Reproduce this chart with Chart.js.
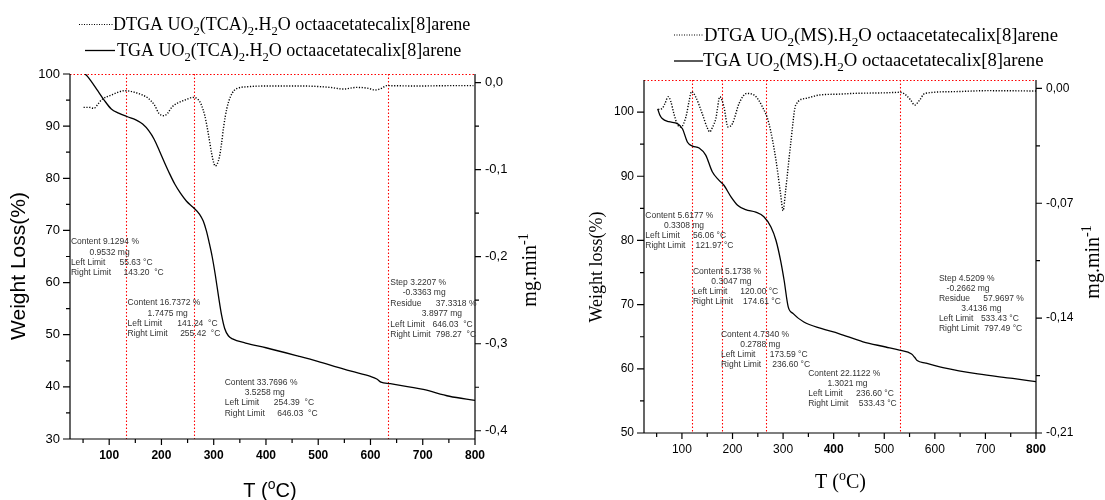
<!DOCTYPE html>
<html>
<head>
<meta charset="utf-8">
<script src="https://cdn.jsdelivr.net/npm/chart.js@4.4.1/dist/chart.umd.min.js"></script>
<style>
  body { margin: 0; background: #fff; }
  #wrap { position: relative; width: 1105px; height: 500px; }
  canvas { position: absolute; top: 0; }
</style>
</head>
<body>
<div id="wrap">
  <canvas id="tgaLeft" width="552" height="500" style="left:0;width:552px;height:500px"></canvas>
  <canvas id="tgaRight" width="553" height="500" style="left:552px;width:553px;height:500px"></canvas>
</div>
<script>
// --- DATA: UO2(TCA)2.H2O (left) ---
const leftTgaT = [54, 58, 65, 78, 91, 104, 118, 135, 151, 164, 176, 186, 196, 206, 216, 226, 236, 248, 261, 273,
                  280, 286, 291, 297, 303, 309, 315, 321, 328, 336, 361, 400, 462, 499, 536, 563, 600, 612, 620, 638,
                  701, 751, 800];
const leftTgaW = [100, 99.6, 98.7, 96.8, 94.9, 93.3, 92.5, 91.8, 91.2, 90.4, 89.1, 87.5, 85.3, 83.0, 80.8, 78.8, 77.2, 75.6, 74.4, 73.1,
                  71.8, 69.9, 67.8, 65, 61.5, 57.5, 53.8, 51.2, 49.8, 49.2, 48.4, 47.5, 45.9, 44.9, 43.8, 43.0, 42.0, 41.5, 40.9, 40.6,
                  39.5, 38.2, 37.4];
const leftDtgaT = [51, 62, 71, 78, 85, 104, 130, 149, 165, 175, 187, 195, 205, 212, 220, 232, 245, 260, 270, 276,
                   283, 289, 296, 300, 303, 307, 311, 315, 319, 325, 332, 339, 345, 365, 410, 470, 523, 548, 574, 596,
                   609, 621, 631, 689, 752, 797];
const leftDtgaV = [-0.0284, -0.0284, -0.0295, -0.0250, -0.0199, -0.0142, -0.0092, -0.0111, -0.0145, -0.0180, -0.0260, -0.0352, -0.0379, -0.0350, -0.0280, -0.0230, -0.0199, -0.0169, -0.0192, -0.0250,
                   -0.0380, -0.0563, -0.0812, -0.0920, -0.0958, -0.0930, -0.0850, -0.0700, -0.0506, -0.0300, -0.0161, -0.0090, -0.0065, -0.0046, -0.0038, -0.0038, -0.0054, -0.0073, -0.0054, -0.0065,
                   -0.0084, -0.0065, -0.0034, -0.0038, -0.0034, -0.0034];
const leftLimits = [134, 261, 634];

// --- DATA: UO2(MS).H2O (right) ---
const rightTgaT = [52, 56, 61, 74, 91, 101, 111, 121, 134, 147, 160, 173, 183, 197, 210, 226, 246, 262, 276, 286,
                   295, 302, 310, 320, 341, 375, 410, 458, 503, 530, 554, 560, 565, 582, 616, 685, 754, 800];
const rightTgaW = [100.5, 99.6, 99, 98.5, 98.2, 97.4, 95.3, 94.7, 94.4, 93.3, 90.7, 89.4, 88.6, 86.8, 85.5, 84.8, 84.4, 83.7, 82.1, 80,
                   76.9, 73.8, 69.7, 68.6, 67.3, 66.3, 65.5, 64.2, 63.4, 62.9, 62.3, 61.8, 61.3, 60.9, 60.2, 59.2, 58.5, 58.0];
const rightDtgaT = [53, 61, 66, 73, 78, 84, 91, 98, 108, 114, 119, 127, 140, 150, 155, 160, 167, 175, 183, 191,
                    200, 213, 228, 243, 259, 272, 286, 295, 300, 305, 315, 325, 345, 371, 411, 437, 503, 532, 543, 552,
                    560, 570, 580, 637, 703, 800];
const rightDtgaV = [-0.0129, -0.0122, -0.0095, -0.0051, -0.0080, -0.0153, -0.0220, -0.0235, -0.0173, -0.0080, -0.0020, -0.0051, -0.0153, -0.0240, -0.0265, -0.0240, -0.0184, -0.0051, -0.0112, -0.0235,
                    -0.0214, -0.0092, -0.0031, -0.0041, -0.0112, -0.0214, -0.0439, -0.0643, -0.0745, -0.0622, -0.0337, -0.0102, -0.0061, -0.0041, -0.0035, -0.0031, -0.0027, -0.0024, -0.0041, -0.0070,
                    -0.0102, -0.0071, -0.0031, -0.0020, -0.0014, -0.0016];
const rightLimits = [119, 178, 265, 530];

// --- TICKS ---
const tempTicks = [100, 200, 300, 400, 500, 600, 700, 800];
const tempMinor = [50, 150, 250, 350, 450, 550, 650, 750];
const leftYTicks = [30, 40, 50, 60, 70, 80, 90, 100];
const leftYMinor = [35, 45, 55, 65, 75, 85, 95];
const leftY2Ticks = [0, -0.1, -0.2, -0.3, -0.4];
const leftY2Labels = ['0,0', '-0,1', '-0,2', '-0,3', '-0,4'];
const leftY2Minor = [-0.05, -0.15, -0.25, -0.35];
const rightYTicks = [50, 60, 70, 80, 90, 100];
const rightYMinor = [55, 65, 75, 85, 95];
const rightY2Ticks = [0, -0.07, -0.14, -0.21];
const rightY2Labels = ['0,00', '-0,07', '-0,14', '-0,21'];
const rightY2Minor = [-0.035, -0.105, -0.175];
const rightBoldTemps = [400, 800];

// --- ANNOTATION TEXT (anchored at T / weight of first line) ---
const leftNotes = [
    { t: 26.7, w: 67.8, lines: [[['Content 9.1294 %', 0]], [['0.9532 mg', 18.6]], [['Left Limit', 0], ['55.63 °C', 48.6]], [['Right Limit', 0], ['143.20  °C', 52.6]]] },
    { t: 135.1, w: 56.1, lines: [[['Content 16.7372 %', 0]], [['1.7475 mg', 20]], [['Left Limit', 0], ['141.24  °C', 49.8]], [['Right Limit', 0], ['255.42  °C', 52.6]]] },
    { t: 321, w: 40.9, lines: [[['Content 33.7696 %', 0]], [['3.5258 mg', 20]], [['Left Limit', 0], ['254.39  °C', 49.1]], [['Right Limit', 0], ['646.03  °C', 52.6]]] },
    { t: 638, w: 60.0, lines: [[['Step 3.2207 %', 0]], [['-0.3363 mg', 12.3]], [['Residue', 0], ['37.3318 %', 45.5]], [['3.8977 mg', 31.5]], [['Left Limit', 0], ['646.03  °C', 42.1]], [['Right Limit', 0], ['798.27  °C', 45.5]]] }
];
const rightNotes = [
    { t: 27.6, w: 83.9, lines: [[['Content 5.6177 %', 0]], [['0.3308 mg', 18.6]], [['Left Limit', 0], ['56.06 °C', 47.6]], [['Right Limit', 0], ['121.97 °C', 50.3]]] },
    { t: 121.8, w: 75.2, lines: [[['Content 5.1738 %', 0]], [['0.3047 mg', 18.4]], [['Left Limit', 0], ['120.00 °C', 47.4]], [['Right Limit', 0], ['174.61 °C', 50]]] },
    { t: 177.2, w: 65.3, lines: [[['Content 4.7340 %', 0]], [['0.2788 mg', 19.2]], [['Left Limit', 0], ['173.59 °C', 48.7]], [['Right Limit', 0], ['236.60 °C', 51.2]]] },
    { t: 349.6, w: 59.25, lines: [[['Content 22.1122 %', 0]], [['1.3021 mg', 19.2]], [['Left Limit', 0], ['236.60 °C', 47.8]], [['Right Limit', 0], ['533.43 °C', 50.6]]] },
    { t: 608, w: 74.05, lines: [[['Step 4.5209 %', 0]], [['-0.2662 mg', 7.7]], [['Residue', 0], ['57.9697 %', 44.3]], [['3.4136 mg', 22.4]], [['Left Limit', 0], ['533.43 °C', 42]], [['Right Limit', 0], ['797.49 °C', 45.4]]] }
];

const SERIF = "'Liberation Serif', 'Times New Roman', serif";
const SANS = "'Liberation Sans', Arial, sans-serif";

const zip = (xs, ys) => xs.map((x, i) => ({ x: x, y: ys[i] }));

// --- HELPER: rich text with sub/superscripts ---
function drawRuns(ctx, runs, x, y, size, family, align) {
    let total = 0;
    const parts = runs.map(r => {
        const s = r[1] ? size * 0.7 : size;
        ctx.font = s + 'px ' + family;
        const w = ctx.measureText(r[0]).width;
        total += w;
        return { text: r[0], s: s, w: w, dy: r[1] === 'sub' ? size * 0.28 : (r[1] === 'sup' ? -size * 0.42 : 0) };
    });
    let cx = align === 'center' ? x - total / 2 : x;
    ctx.textAlign = 'left';
    ctx.textBaseline = 'alphabetic';
    parts.forEach(p => {
        ctx.font = p.s + 'px ' + family;
        ctx.fillText(p.text, cx, y + p.dy);
        cx += p.w;
    });
}

// --- PLUGIN: axes, ticks, limits, notes, titles, legend ---
const decorPlugin = {
    id: 'decor',
    beforeDatasetsDraw(chart, args, o) {
        const ctx = chart.ctx, a = chart.chartArea, sx = chart.scales.x;
        ctx.save();
        ctx.strokeStyle = '#ff0000';
        ctx.lineWidth = 1.1;
        ctx.setLineDash([1.5, 2]);
        ctx.beginPath();
        ctx.moveTo(a.left, a.top + 0.5);
        ctx.lineTo(a.right, a.top + 0.5);
        o.limits.forEach(t => {
            // snap to even pixel columns so the thin red stays red in the screenshot
            const px = 2 * Math.round(sx.getPixelForValue(t) / 2) + 0.5;
            ctx.moveTo(px, a.top);
            ctx.lineTo(px, a.bottom);
        });
        ctx.stroke();
        ctx.restore();
    },
    afterDraw(chart, args, o) {
        const ctx = chart.ctx, a = chart.chartArea;
        const sx = chart.scales.x, sy = chart.scales.y, sy2 = chart.scales.y2;
        ctx.save();
        ctx.strokeStyle = '#000';
        ctx.lineWidth = 1.2;
        ctx.setLineDash([]);
        ctx.beginPath();
        ctx.moveTo(a.left, a.top); ctx.lineTo(a.left, a.bottom); ctx.lineTo(a.right, a.bottom);
        ctx.moveTo(a.right, a.top); ctx.lineTo(a.right, a.bottom);
        // ticks
        const tick = (list, len, fn) => list.forEach(v => fn(v, len));
        const xt = (v, len) => { const p = sx.getPixelForValue(v); ctx.moveTo(p, a.bottom); ctx.lineTo(p, a.bottom + len); };
        const yt = (v, len) => { const p = sy.getPixelForValue(v); ctx.moveTo(a.left, p); ctx.lineTo(a.left - len, p); };
        const y2t = (v, len) => { const p = sy2.getPixelForValue(v); ctx.moveTo(a.right, p); ctx.lineTo(a.right + len, p); };
        tick(o.xTicks, 6, xt); tick(o.xMinor, 4, xt);
        tick(o.yTicks, 7, yt); tick(o.yMinor, 4, yt);
        tick(o.y2Ticks, 6, y2t); tick(o.y2Minor, 4, y2t);
        ctx.stroke();

        // annotations
        ctx.fillStyle = '#333';
        ctx.font = '8.5px ' + SANS;
        ctx.textAlign = 'left';
        ctx.textBaseline = 'middle';
        o.notes.forEach(n => {
            const x0 = sx.getPixelForValue(n.t), y0 = sy.getPixelForValue(n.w);
            n.lines.forEach((line, i) => {
                line.forEach(piece => ctx.fillText(piece[0], x0 + piece[1], y0 + i * o.noteGap));
            });
        });

        // titles
        ctx.fillStyle = '#000';
        o.titles.forEach(t => {
            if (t.rotate) {
                ctx.save();
                ctx.translate(t.x, t.y);
                ctx.rotate(-Math.PI / 2);
                drawRuns(ctx, t.runs, 0, 0, t.size, t.family, 'center');
                ctx.restore();
            } else {
                drawRuns(ctx, t.runs, t.x, t.y, t.size, t.family, 'center');
            }
        });

        // legend
        o.legend.forEach(l => {
            ctx.beginPath();
            ctx.lineWidth = l.dotted ? 1 : 1.3;
            ctx.setLineDash(l.dotted ? [1, 1.5] : []);
            ctx.moveTo(l.x1, l.y); ctx.lineTo(l.x2, l.y);
            ctx.stroke();
            drawRuns(ctx, l.runs, l.tx, l.ty, o.legendSize, SERIF, 'left');
        });
        ctx.restore();
    }
};

function makeChart(id, c) {
    const canvas = document.getElementById(id);
    const W = canvas.width, H = canvas.height;
    return new Chart(canvas, {
        type: 'line',
        data: {
            datasets: [
                { label: 'TGA', data: zip(c.tgaT, c.tgaW), yAxisID: 'y', borderColor: '#000', borderWidth: 1.3,
                  pointRadius: 0, cubicInterpolationMode: 'monotone', fill: false },
                { label: 'DTGA', data: zip(c.dtgaT, c.dtgaV), yAxisID: 'y2', borderColor: '#000', borderWidth: 1.4,
                  borderDash: [1.2, 1.6], pointRadius: 0, cubicInterpolationMode: 'monotone', fill: false }
            ]
        },
        options: {
            responsive: false,
            animation: false,
            devicePixelRatio: 1,
            layout: { padding: { top: c.box.top, left: 0, right: 0, bottom: 0 } },
            plugins: { legend: { display: false }, tooltip: { enabled: false }, decor: c.decor },
            scales: {
                x: {
                    type: 'linear', min: 25, max: 800,
                    afterBuildTicks: s => { s.ticks = tempTicks.map(v => ({ value: v })); },
                    afterFit: s => { s.height = H - c.box.bottom; },
                    grid: { display: false, drawTicks: false }, border: { display: false },
                    ticks: { padding: 9, color: '#000', autoSkip: false, maxRotation: 0,
                             font: ctx => ({ family: SANS, size: 12,
                                             weight: (ctx.tick && c.boldX(ctx.tick.value)) ? 'bold' : 'normal' }) }
                },
                y: {
                    type: 'linear', position: 'left', min: c.yMin, max: c.yMax,
                    afterBuildTicks: s => { s.ticks = c.yTicks.map(v => ({ value: v })); },
                    afterFit: s => { s.width = c.box.left; },
                    grid: { display: false, drawTicks: false }, border: { display: false },
                    ticks: { padding: 10, color: '#000', font: { family: SANS, size: c.ySize } }
                },
                y2: {
                    type: 'linear', position: 'right', min: c.y2Min, max: c.y2Max,
                    afterBuildTicks: s => { s.ticks = c.y2Ticks.map(v => ({ value: v })); },
                    afterFit: s => { s.width = W - c.box.right; },
                    grid: { display: false, drawTicks: false }, border: { display: false },
                    ticks: { padding: 10, color: '#000', font: { family: SANS, size: c.ySize },
                             callback: (v, i) => c.y2Labels[i] }
                }
            }
        },
        plugins: [decorPlugin]
    });
}

makeChart('tgaLeft', {
    tgaT: leftTgaT, tgaW: leftTgaW, dtgaT: leftDtgaT, dtgaV: leftDtgaV,
    box: { left: 70, right: 475, top: 74, bottom: 439 },
    yMin: 30, yMax: 100, y2Min: -0.4095, y2Max: 0.0100,
    yTicks: leftYTicks, y2Ticks: leftY2Ticks, y2Labels: leftY2Labels, ySize: 13,
    boldX: () => true,
    decor: {
        limits: leftLimits,
        xTicks: tempTicks, xMinor: tempMinor, yTicks: leftYTicks, yMinor: leftYMinor,
        y2Ticks: leftY2Ticks, y2Minor: leftY2Minor,
        notes: leftNotes, noteGap: 10.4,
        titles: [
            { runs: [['Weight Loss(%)']], x: 25, y: 266, size: 21, family: SANS, rotate: true },
            { runs: [['T ('], ['o', 'sup'], ['C)']], x: 270, y: 497, size: 20, family: SANS },
            { runs: [['mg.min'], ['-1', 'sup']], x: 536, y: 270, size: 20, family: SERIF, rotate: true }
        ],
        legendSize: 18,
        legend: [
            { dotted: true, x1: 79, x2: 113, y: 24.5, tx: 113, ty: 30,
              runs: [['DTGA UO'], ['2', 'sub'], ['(TCA)'], ['2', 'sub'], ['.H'], ['2', 'sub'], ['O octaacetatecalix[8]arene']] },
            { dotted: false, x1: 85, x2: 115, y: 50.5, tx: 117, ty: 56,
              runs: [['TGA UO'], ['2', 'sub'], ['(TCA)'], ['2', 'sub'], ['.H'], ['2', 'sub'], ['O octaacetatecalix[8]arene']] }
        ]
    }
});

makeChart('tgaRight', {
    tgaT: rightTgaT, tgaW: rightTgaW, dtgaT: rightDtgaT, dtgaV: rightDtgaV,
    box: { left: 92, right: 484, top: 80, bottom: 433 },
    yMin: 50, yMax: 105, y2Min: -0.21, y2Max: 0.0051,
    yTicks: rightYTicks, y2Ticks: rightY2Ticks, y2Labels: rightY2Labels, ySize: 12,
    boldX: v => rightBoldTemps.includes(v),
    decor: {
        limits: rightLimits,
        xTicks: tempTicks, xMinor: tempMinor, yTicks: rightYTicks, yMinor: rightYMinor,
        y2Ticks: rightY2Ticks, y2Minor: rightY2Minor,
        notes: rightNotes, noteGap: 10,
        titles: [
            { runs: [['Weight loss(%)']], x: 50, y: 267, size: 18, family: SERIF, rotate: true },
            { runs: [['T ('], ['o', 'sup'], ['C)']], x: 288.5, y: 488, size: 20, family: SERIF },
            { runs: [['mg.min'], ['-1', 'sup']], x: 547, y: 262, size: 20, family: SERIF, rotate: true }
        ],
        legendSize: 18.7,
        legend: [
            { dotted: true, x1: 122, x2: 152, y: 35, tx: 152, ty: 41,
              runs: [['DTGA UO'], ['2', 'sub'], ['(MS).H'], ['2', 'sub'], ['O octaacetatecalix[8]arene']] },
            { dotted: false, x1: 122, x2: 151, y: 61, tx: 151, ty: 66,
              runs: [['TGA UO'], ['2', 'sub'], ['(MS).H'], ['2', 'sub'], ['O octaacetatecalix[8]arene']] }
        ]
    }
});
</script>
</body>
</html>
